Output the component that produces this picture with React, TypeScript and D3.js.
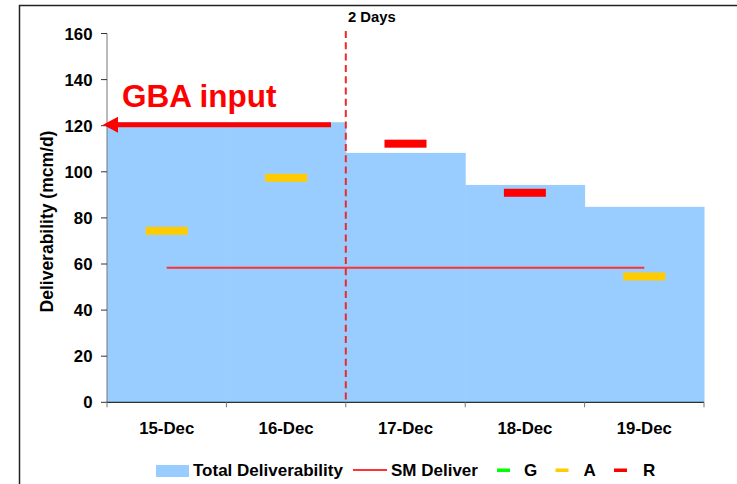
import React from "react";
import * as d3 from "d3";

const categories = ["15-Dec", "16-Dec", "17-Dec", "18-Dec", "19-Dec"];
const totalDeliverability = [121.5, 121.5, 108.2, 94.3, 84.8];
const smDeliver = [58.4, 58.4, 58.4, 58.4, 58.4];
const ragStatus = ["A", "A", "R", "R", "A"];
const ragValues = [74.4, 97.4, 112.2, 90.9, 54.6];
const yTicks = [0, 20, 40, 60, 80, 100, 120, 140, 160];
const gbaInputValue = 120;

const ragColors: Record<string, string> = { G: "#00FF00", A: "#FFCC00", R: "#FF0000" };
const FONT = "'Liberation Sans', Arial, sans-serif";

export default function App() {
  const W = 737, H = 484;
  const left = 107, right = 704, top = 33.5, bottom = 402.3;
  const x = d3.scaleBand().domain(categories).range([left, right]).padding(0);
  const y = d3.scaleLinear().domain([0, 160]).range([bottom, top]);
  const bw = x.bandwidth();
  const lineGen = d3
    .line<number>()
    .x((_, i) => (x(categories[i]) as number) + bw / 2)
    .y((d) => y(d));
  const dividerX = x(categories[2]) as number;
  const markerW = 42, markerH = 8;
  const arrowY = y(gbaInputValue) - 1;

  return (
    <svg width={W} height={H} style={{ position: "absolute", left: 0, top: 0 }} fontFamily={FONT}>
      <rect x={0} y={0} width={W} height={H} fill="#fff" />
      {/* frame */}
      <path d={`M19.5,${H + 5} V5.5 H${W + 5}`} fill="none" stroke="#222" strokeWidth={1.5} />
      {/* area bars */}
      {totalDeliverability.map((v, i) => (
        <rect key={i} x={x(categories[i])} y={y(v)} width={bw + 0.5} height={bottom - y(v)} fill="#99CCFF" />
      ))}
      {/* y axis */}
      <line x1={left} x2={left} y1={top} y2={bottom} stroke="#777" strokeWidth={1} />
      {yTicks.map((t) => (
        <g key={t}>
          <line x1={left - 6} x2={left} y1={y(t)} y2={y(t)} stroke="#333" />
          <text x={92.5} y={y(t) + 6} textAnchor="end" fontSize={16.8} fontWeight="bold" fill="#000">
            {t}
          </text>
        </g>
      ))}
      {/* x axis */}
      <line x1={left} x2={right} y1={bottom} y2={bottom} stroke="#000" strokeWidth={1} />
      {categories.map((c, i) => (
        <line key={"t" + i} x1={x(c)} x2={x(c)} y1={bottom} y2={bottom + 5} stroke="#777" />
      ))}
      <line x1={right} x2={right} y1={bottom} y2={bottom + 5} stroke="#777" />
      {categories.map((c) => (
        <text key={c} x={(x(c) as number) + bw / 2} y={434} textAnchor="middle" fontSize={16.8} fontWeight="bold">
          {c}
        </text>
      ))}
      {/* y title */}
      <text
        transform={`translate(53,221.5) rotate(-90)`}
        textAnchor="middle"
        fontSize={17.5}
        fontWeight="bold"
      >
        Deliverability (mcm/d)
      </text>
      {/* SM Deliver */}
      <path d={lineGen(smDeliver) || ""} fill="none" stroke="#FF3333" strokeWidth={2} />
      {/* RAG markers */}
      {ragValues.map((v, i) => (
        <rect
          key={"m" + i}
          x={(x(categories[i]) as number) + bw / 2 - markerW / 2}
          y={y(v) - markerH / 2}
          width={markerW}
          height={markerH}
          fill={ragColors[ragStatus[i]]}
        />
      ))}
      {/* 2 days divider */}
      <line x1={dividerX} x2={dividerX} y1={31} y2={bottom} stroke="#F02828" strokeWidth={2} strokeDasharray="7,4.3" />
      <text x={348} y={22} fontSize={14.8} fontWeight="bold">
        2 Days
      </text>
      {/* GBA input arrow */}
      <line x1={331} x2={116} y1={arrowY} y2={arrowY} stroke="#FF0000" strokeWidth={5} />
      <path d={`M103,${arrowY} L118,${arrowY - 8} L118,${arrowY + 8} Z`} fill="#FF0000" />
      <text x={122} y={106.5} fontSize={31.5} fontWeight="bold" fill="#FF0000">
        GBA input
      </text>
      {/* legend */}
      <rect x={156} y={465} width={33} height={12} fill="#99CCFF" />
      <text x={193} y={476} fontSize={17} fontWeight="bold">Total Deliverability</text>
      <line x1={353} x2={387} y1={470} y2={470} stroke="#FF3333" strokeWidth={2} />
      <text x={391} y={476} fontSize={17} fontWeight="bold">SM Deliver</text>
      {["G", "A", "R"].map((k, i) => (
        <g key={k}>
          <rect x={497 + i * 58.5} y={468.5} width={13} height={3.5} fill={ragColors[k]} />
          <text x={524 + i * 59.5} y={476} fontSize={17} fontWeight="bold">{k}</text>
        </g>
      ))}
    </svg>
  );
}
